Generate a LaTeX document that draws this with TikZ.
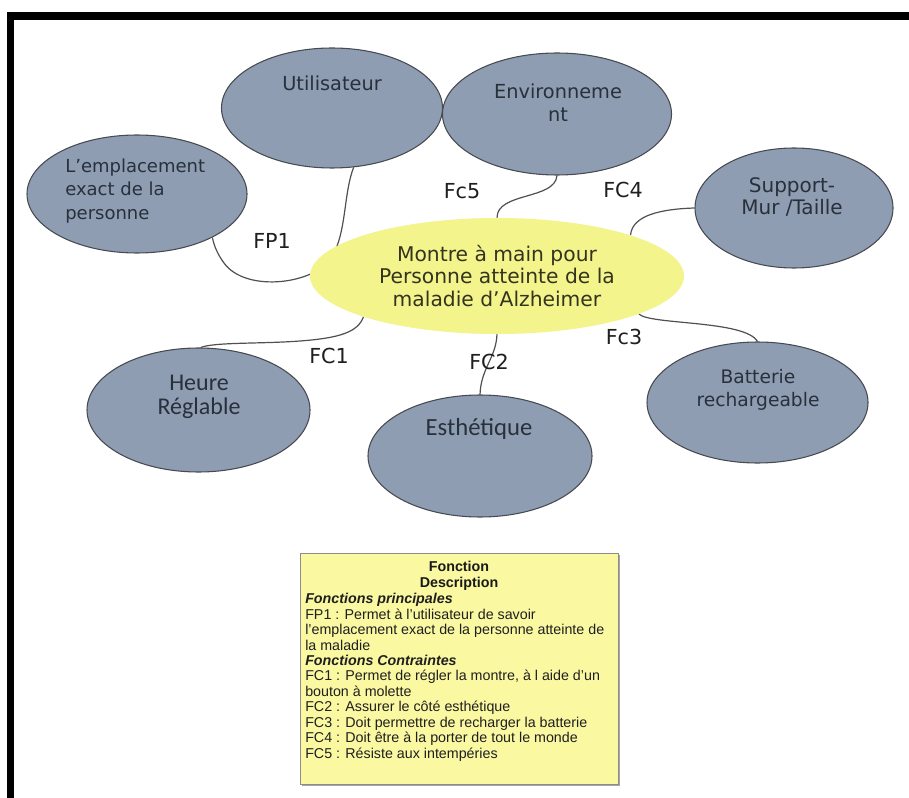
\documentclass[tikz,border=0pt]{standalone}
\usepackage{fontspec}
\setmainfont{DejaVu Sans}
\newfontfamily\calfont{Carlito}
\newfontfamily\arialfont{Liberation Sans}
\usetikzlibrary{shapes.geometric}
\pgfdeclarelayer{bg}
\pgfsetlayers{bg,main}

\definecolor{bubble}{HTML}{8E9DB2}
\definecolor{bubbleline}{HTML}{474A50}
\definecolor{core}{HTML}{F3F48C}
\definecolor{notefill}{HTML}{FBF8A2}
\definecolor{noteline}{HTML}{8C8C8C}
\definecolor{ink}{HTML}{28303C}
\definecolor{coreink}{HTML}{34341E}
\definecolor{wire}{HTML}{505050}

\begin{document}
\begin{tikzpicture}[x=0.75pt,y=-0.75pt,
  sz/.style 2 args={minimum width=#1*0.75pt, minimum height=#2*0.75pt},
  bubble/.style={ellipse, draw=bubbleline, line width=0.8pt, fill=bubble, inner sep=0pt},
  hub/.style={ellipse, fill=core, inner sep=0pt},
  txt/.style={inner sep=0pt, align=center, text=ink},
  tag/.style={inner sep=0pt, text=black!88, font=\fontsize{15.5}{18}\selectfont},
  wire/.style={draw=wire, line width=0.9pt},
  notebox/.style={draw=noteline, line width=0.7pt, fill=notefill},
]
\useasboundingbox (0,0) rectangle (909,798);
\begin{pgfonlayer}{bg}
\fill[white] (0,0) rectangle (909,798);
\end{pgfonlayer}

% outer frame (top and left rules)
\fill[black] (7,12) rectangle (909,20);
\fill[black] (7,12) rectangle (14,798);

% ellipses
\node[bubble, sz={221}{120}] (util) at (332,108) {};
\node[bubble, sz={229}{122}] (env)  at (557,114) {};
\node[bubble, sz={220}{118}] (lieu) at (137,194) {};
\node[bubble, sz={198}{120}] (supp) at (794,208) {};
\node[hub,    sz={374}{116}] (core) at (497,276) {};
\node[bubble, sz={223}{124}] (heure) at (198.5,410) {};
\node[bubble, sz={224}{122}] (esth) at (480,456) {};
\node[bubble, sz={221}{121}] (batt) at (757.5,402.5) {};

% texts inside the ellipses
\node[txt, font=\fontsize{14.5}{17}\selectfont] (utilT) at (332,83) {Utilisateur};
\node[txt, font=\fontsize{14.5}{17.3}\selectfont] (envT) at (558,103) {Environneme\\nt};
\node[txt, align=left, anchor=west, font=\fontsize{13.5}{17.5}\selectfont] (lieuT) at (65,191) {L’emplacement\\exact de la\\personne};
\node[txt, font=\fontsize{15}{17}\selectfont] (suppT) at (792,197) {Support-\\Mur /Taille};
\node[txt, text=coreink, font=\fontsize{15.2}{17}\selectfont] (coreT) at (497,276) {Montre à main pour\\Personne atteinte de la\\maladie d’Alzheimer};
\node[txt, font=\calfont\fontsize{18}{18}\selectfont] (heureT) at (199,397) {Heure\\Réglable};
\node[txt, font=\calfont\fontsize{18.5}{20}\selectfont] (esthT) at (479,429) {Esthétique};
\node[txt, font=\fontsize{14}{17.5}\selectfont] (battT) at (758,390) {Batterie\\rechargeable};

% connectors, kept under the ellipses
\begin{pgfonlayer}{bg}
\draw[wire] (util.-70) .. controls (343,195) and (347,235) .. (330,260)
  .. controls (310,285) and (245,292) .. (224,263)
  .. controls (218,255) and (214,246) .. (lieu.-30);
\draw[wire] (env.-90) .. controls (555,200) and (497,192) .. (core.90);
\draw[wire] (supp.180) .. controls (662,209) and (632,215) .. (core.17);
\draw[wire] (core.-163) .. controls (358,332) and (340,338) .. (300,341)
  .. controls (260,344) and (215,342) .. (heure.88);
\draw[wire] (core.-90) .. controls (496,358) and (481,368) .. (esth.90);
\draw[wire] (core.-15) .. controls (650,325) and (745,320) .. (batt.90);
\end{pgfonlayer}

% function labels
\node[tag] (fp1) at (272,241) {FP1};
\node[tag] (fc5) at (462,191) {Fc5};
\node[tag] (fc4) at (623,190) {FC4};
\node[tag] (fc1) at (329,356) {FC1};
\node[tag] (fc2) at (489,362) {FC2};
\node[tag] (fc3) at (624,337) {Fc3};

% legend note
\fill[black!35] (302,555) rectangle (620,786);
\node[notebox, anchor=north west, inner sep=0pt, minimum width=318*0.75pt, minimum height=231*0.75pt] (note) at (300,553) {};
\node[inner sep=0pt, align=center, font=\arialfont\bfseries\fontsize{10.7}{11.6}\selectfont, text=black!90] (noteHead) at (459,576) {Fonction\\Description};
\node[inner sep=0pt, align=left, anchor=north west, font=\arialfont\fontsize{10.7}{11.6}\selectfont, text=black!88] (noteBody) at (305,593)
{\textbf{\textit{Fonctions principales}}\\
FP1 : Permet à l’utilisateur de savoir\\
l’emplacement exact de la personne atteinte de\\
la maladie\\
\textbf{\textit{Fonctions Contraintes}}\\
FC1 : Permet de régler la montre, à l aide d’un\\
bouton à molette\\
FC2 : Assurer le côté esthétique\\
FC3 : Doit permettre de recharger la batterie\\
FC4 : Doit être à la porter de tout le monde\\
FC5 : Résiste aux intempéries};
\end{tikzpicture}
\end{document}
